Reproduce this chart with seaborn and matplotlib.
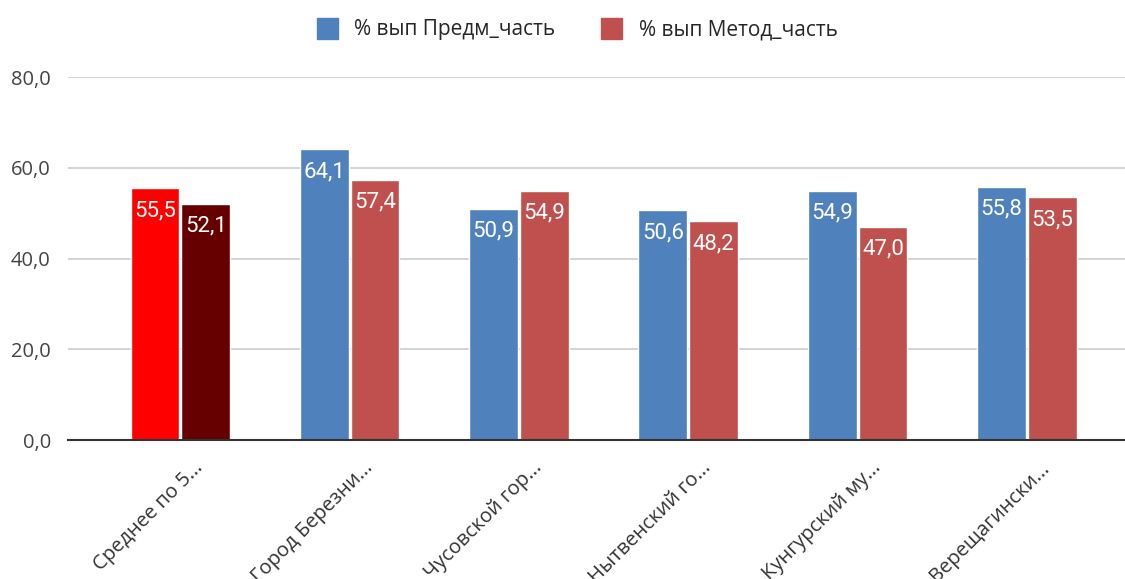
import pandas as pd
import seaborn as sns
import matplotlib.pyplot as plt
from matplotlib.transforms import ScaledTranslation

# data
regions = ['Среднее по 5...', 'Город Березни...', 'Чусовской гор...',
           'Нытвенский го...', 'Кунгурский му...', 'Верещагински...']
predm = [55.5, 64.1, 50.9, 50.6, 54.9, 55.8]
metod = [52.1, 57.4, 54.9, 48.2, 47.0, 53.5]
series = ['% вып Предм_часть', '% вып Метод_часть']

df = pd.DataFrame({
    'region': regions * 2,
    'value': predm + metod,
    'series': [series[0]] * len(regions) + [series[1]] * len(regions),
})

sns.set_style('white')
plt.rcParams['font.family'] = ['Roboto', 'DejaVu Sans']
label_font = ['Open Sans', 'DejaVu Sans']

fig = plt.figure(figsize=(11.25, 5.79), dpi=100)
ax = fig.add_axes([0.06, 0.24, 0.94, 0.627])

sns.barplot(data=df, x='region', y='value', hue='series',
            palette=['#4F81BD', '#C0504D'], saturation=1, width=0.6, gap=0.04,
            ax=ax, legend=False)

# first group ("average") is highlighted in red tones
ax.containers[0][0].set_facecolor('#FF0000')
ax.containers[1][0].set_facecolor('#660000')

for cont in ax.containers:
    for bar in cont:
        h = bar.get_height()
        ax.text(bar.get_x() + bar.get_width() / 2, h - 2.6,
                f'{h:.1f}'.replace('.', ','), ha='center', va='top',
                color='white', fontsize=16)

ax.set_ylim(0, 80)
ax.set_xlim(-0.667, 5.58)
ax.set_yticks([0, 20, 40, 60, 80])
ax.set_yticklabels([f'{v:.1f}'.replace('.', ',') for v in [0, 20, 40, 60, 80]],
                   fontsize=14.5, color='#444444', family=label_font)
ax.yaxis.grid(True, color='#cccccc', linewidth=1.2)
ax.set_axisbelow(True)
ax.tick_params(axis='y', length=0, pad=12)
ax.tick_params(axis='x', length=0, pad=13)
shift = ScaledTranslation(13 / 100, 0, fig.dpi_scale_trans)
for lbl in ax.get_xticklabels():
    lbl.set_rotation(45)
    lbl.set_ha('right')
    lbl.set_rotation_mode('anchor')
    lbl.set_fontsize(14.5)
    lbl.set_color('#333333')
    lbl.set_family(label_font)
    lbl.set_transform(lbl.get_transform() + shift)
ax.set_xlabel('')
ax.set_ylabel('')
sns.despine(ax=ax, left=True, top=True, right=True)
ax.spines['bottom'].set_color('#333333')
ax.spines['bottom'].set_linewidth(1.5)

handles = [plt.Rectangle((0, 0), 1, 1, color=c) for c in ['#4F81BD', '#C0504D']]
fig.legend(handles, series, loc='center', bbox_to_anchor=(0.513, 0.95), ncol=2,
           frameon=False, handlelength=1.0, handleheight=1.2, handletextpad=0.8,
           columnspacing=2.2, prop={'family': label_font, 'size': 15})

fig.savefig('out.png', dpi=100)
